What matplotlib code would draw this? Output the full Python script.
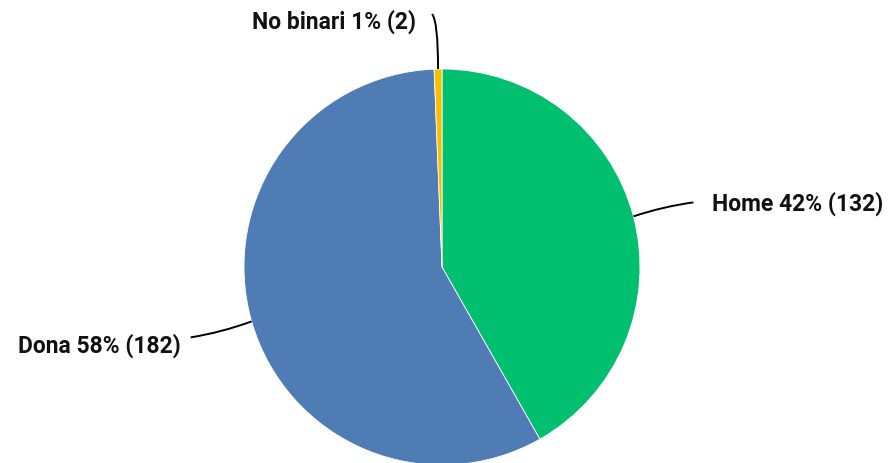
import numpy as np
import matplotlib
matplotlib.use("Agg")
import matplotlib.pyplot as plt
from matplotlib.path import Path
from matplotlib.patches import PathPatch

# Dades
categories = ["Home", "Dona", "No binari"]
counts = [132, 182, 2]
colors = ["#00BF6F", "#507CB6", "#F9BE00"]

W, H = 888, 464
fig = plt.figure(figsize=(W / 100, H / 100), dpi=100)
ax = fig.add_axes([0, 0, 1, 1])
ax.set_xlim(0, W)
ax.set_ylim(0, H)
ax.set_aspect("equal")
ax.axis("off")

cx, cy, r = 442, H - 268, 198
wedges, _ = ax.pie(counts, colors=colors, startangle=90, counterclock=False,
                   center=(cx, cy), radius=r, frame=True,
                   wedgeprops=dict(edgecolor="white", linewidth=0.6))
ax.set_xlim(0, W)
ax.set_ylim(0, H)
ax.axis("off")

total = sum(counts)
# (final de la línia relatiu a l'ancoratge, punt de control, alineació del text)
leaders = {
    "Home": dict(end=(60, 14), ctrl=(30, 10), ha="left", off=(19, 0)),
    "Dona": dict(end=(-61, -16), ctrl=(-30, -11), ha="right", off=(-10, -7)),
    "No binari": dict(end=(-6, 55), ctrl=(0, 48), ha="right", off=(-16, -7)),
}

for w, cat, n in zip(wedges, categories, counts):
    ang = np.deg2rad((w.theta1 + w.theta2) / 2)
    ax0, ay0 = cx + r * np.cos(ang), cy + r * np.sin(ang)
    spec = leaders[cat]
    ex, ey = ax0 + spec["end"][0], ay0 + spec["end"][1]
    kx, ky = ax0 + spec["ctrl"][0], ay0 + spec["ctrl"][1]
    path = Path([(ax0, ay0), (kx, ky), (ex, ey)],
                [Path.MOVETO, Path.CURVE3, Path.CURVE3])
    ax.add_patch(PathPatch(path, facecolor="none", edgecolor="black", lw=1.4))
    pct = round(100 * n / total)
    ax.text(ex + spec["off"][0], ey + spec["off"][1], f"{cat} {pct}% ({n})",
            ha=spec["ha"], va="center", fontsize=16.5, fontweight="bold",
            family="Roboto", color="#111111")

fig.savefig("out.png", dpi=100)
